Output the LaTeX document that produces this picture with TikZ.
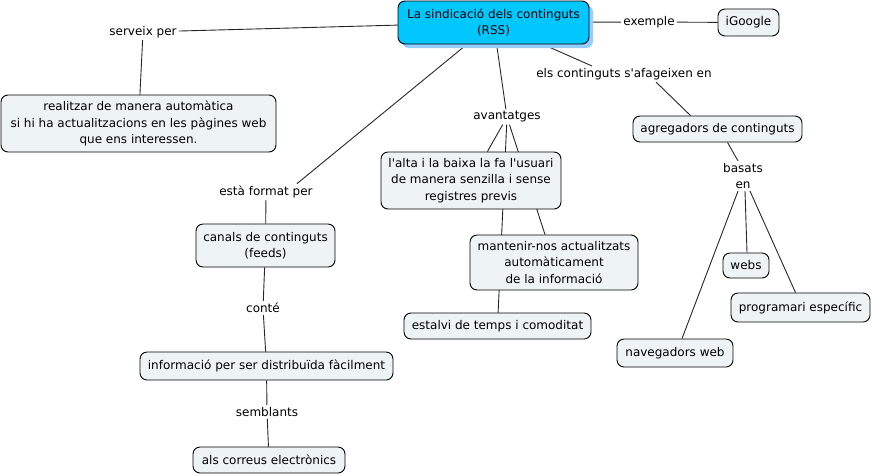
\documentclass[tikz,border=0pt]{standalone}
\usepackage{fontspec}
\setmainfont{DejaVu Sans}[Ligatures=TeXOff]
\usetikzlibrary{backgrounds,shadows}
\definecolor{boxfill}{RGB}{238,243,246}
\definecolor{mainfill}{RGB}{0,200,255}
\definecolor{shadowblue}{RGB}{150,204,255}
\begin{document}
\begin{tikzpicture}[x=1pt,y=-1pt,
  concept/.style={draw=black, line width=0.9pt, rounded corners=7pt, fill=boxfill,
    align=center, inner sep=0pt, font=\fontsize{12}{16.5}\selectfont},
  mainconcept/.style={concept, fill=mainfill,
    drop shadow={shadow xshift=4pt, shadow yshift=-4pt, fill=shadowblue, opacity=1}},
  link/.style={align=center, inner sep=2pt, font=\fontsize{12}{16.5}\selectfont},
  conn/.style={draw=black!85, line width=0.9pt}]
\useasboundingbox (0,0) rectangle (872,475);

\node[mainconcept, minimum width=191pt, minimum height=43pt] (main) at (493.5,22.5) {La sindicació dels continguts\\(RSS)};
\node[concept, minimum width=61pt, minimum height=27pt] (igoogle) at (748.5,22.5) {iGoogle};
\node[link] (exemple) at (649,22) {exemple};
\node[link] (serveix) at (143,32) {serveix per};
\node[concept, minimum width=275pt, minimum height=57pt] (realitzar) at (138.5,123.5) {realitzar de manera automàtica\\si hi ha actualitzacions en les pàgines web\\que ens interessen.};
\node[link] (esta) at (266,192) {està format per};
\node[concept, minimum width=139pt, minimum height=43pt] (canals) at (265.5,245.5) {canals de continguts\\(feeds)};
\node[link] (conte) at (263,308) {conté};
\node[concept, minimum width=253pt, minimum height=28pt] (info) at (266.5,366) {informació per ser distribuïda fàcilment};
\node[link] (sembl) at (267,412) {semblants};
\node[concept, minimum width=152pt, minimum height=26pt] (correus) at (269,460) {als correus electrònics};
\node[link] (avant) at (507,117) {avantatges};
\node[concept, minimum width=180pt, minimum height=57pt] (alta) at (471,180.5) {l'alta i la baixa la fa l'usuari\\de manera senzilla i sense\\registres previs};
\node[concept, minimum width=168pt, minimum height=55pt] (mant) at (554,262.5) {mantenir-nos actualitzats\\automàticament\\de la informació};
\node[concept, minimum width=187pt, minimum height=26pt] (estalvi) at (497.5,326) {estalvi de temps i comoditat};
\node[link] (cont) at (624,74) {els continguts s'afageixen en};
\node[concept, minimum width=169pt, minimum height=26pt] (agreg) at (717.5,129) {agregadors de continguts};
\node[link] (basats) at (743,176) {basats\\en};
\node[concept, minimum width=46pt, minimum height=25pt] (webs) at (746,265.5) {webs};
\node[concept, minimum width=139pt, minimum height=29pt] (prog) at (800.5,307.5) {programari específic};
\node[concept, minimum width=116pt, minimum height=28pt] (nav) at (675,353) {navegadors web};

\begin{scope}[on background layer]
\draw[conn] (main) -- (serveix);
\draw[conn] (serveix) -- (realitzar);
\draw[conn] (main) -- (exemple);
\draw[conn] (exemple) -- (igoogle);
\draw[conn] (main) -- ([xshift=-18pt]esta.north east);
\draw[conn] (esta) -- (canals);
\draw[conn] (canals) -- (conte);
\draw[conn] (conte) -- (info);
\draw[conn] (info) -- (sembl);
\draw[conn] (sembl) -- (correus);
\draw[conn] (main) -- (avant);
\draw[conn] (avant) -- (alta);
\draw[conn] (avant) -- (mant);
\draw[conn] (avant) -- (estalvi);
\draw[conn] (main) -- ([xshift=-32pt]cont.north);
\draw[conn] ([xshift=32pt]cont.south) -- ([xshift=-27pt]agreg.north);
\draw[conn] ([xshift=10pt]agreg.south) -- ([xshift=-5pt]basats.north);
\draw[conn] ([xshift=-5pt]basats.south) -- ([xshift=7pt]nav.north);
\draw[conn] ([xshift=2pt]basats.south) -- ([xshift=1pt]webs.north);
\draw[conn] ([xshift=7pt]basats.south) -- ([xshift=-5pt]prog.north);
\end{scope}
\end{tikzpicture}
\end{document}
